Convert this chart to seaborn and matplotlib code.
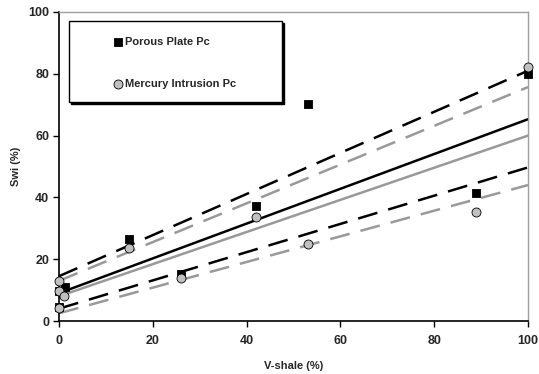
import matplotlib
matplotlib.use("Agg")
import matplotlib.pyplot as plt
import matplotlib.patches as mpatches
import matplotlib.transforms as mtransforms
import seaborn as sns
import pandas as pd

# --- data ---
pp_vsh = [0, 0, 1.3, 15, 26, 42, 53, 89, 100]
pp_swi = [9.7, 4.5, 11.0, 26.6, 15.2, 37.2, 70.1, 41.4, 80.0]

mi_vsh = [0, 0, 1.1, 0, 15, 26, 42, 53, 89, 100]
mi_swi = [13.0, 9.7, 8.2, 4.2, 23.6, 14.0, 33.5, 24.9, 35.3, 82.2]

line_x = [0, 100]
pp_fit = [9.0, 65.3]
pp_upper = [14.5, 81.0]
pp_lower = [4.0, 49.7]
mi_fit = [8.0, 60.0]
mi_upper = [13.0, 75.7]
mi_lower = [2.5, 44.0]

x_ticks = [0, 20, 40, 60, 80, 100]
y_ticks = [0, 20, 40, 60, 80, 100]

BLACK = "#000000"
GRAY = "#999999"
CIRCLE_FACE = "#c0c0c0"

sns.set_style("white")
plt.rcParams["font.family"] = ["Liberation Sans", "DejaVu Sans"]
plt.rcParams["font.weight"] = "bold"

fig = plt.figure(figsize=(5.39, 3.74), dpi=100)
ax = fig.add_axes([59 / 539, 1 - 321 / 374, (528 - 59) / 539, (321 - 12) / 374])

dash = (8, 4.5)
lines = [
    (pp_upper, BLACK, dash),
    (pp_lower, BLACK, dash),
    (mi_upper, GRAY, dash),
    (mi_lower, GRAY, dash),
    (pp_fit, BLACK, None),
    (mi_fit, GRAY, None),
]
for yv, col, ds in lines:
    df = pd.DataFrame({"x": line_x, "y": yv})
    sns.lineplot(data=df, x="x", y="y", ax=ax, color=col, linewidth=1.8,
                 legend=False, zorder=2)
    ln = ax.get_lines()[-1]
    if ds is not None:
        ln.set_dashes(ds)
    ln.set_clip_on(False)

pp_df = pd.DataFrame({"V": pp_vsh, "S": pp_swi})
mi_df = pd.DataFrame({"V": mi_vsh, "S": mi_swi})
sns.scatterplot(data=pp_df, x="V", y="S", ax=ax, marker="s", s=40, color=BLACK,
                edgecolor=BLACK, linewidth=0.6, label="Porous Plate Pc",
                zorder=3, clip_on=False)
sns.scatterplot(data=mi_df, x="V", y="S", ax=ax, marker="o", s=42,
                color=CIRCLE_FACE, edgecolor=BLACK, linewidth=0.6,
                label="Mercury Intrusion Pc", zorder=4, clip_on=False)

ax.set_xlim(0, 100)
ax.set_ylim(0, 100)
ax.set_xticks(x_ticks)
ax.set_yticks(y_ticks)
ax.tick_params(axis="both", direction="out", length=4, width=1, color="black",
               labelsize=9, bottom=True, left=True)
ax.tick_params(axis="x", pad=6)
ax.tick_params(axis="y", pad=3)
for lab in ax.get_xticklabels() + ax.get_yticklabels():
    lab.set_fontweight("bold")
ax.set_xlabel("V-shale (%)", fontsize=8, fontweight="bold", labelpad=10)
ax.set_ylabel("Swi (%)", fontsize=8, fontweight="bold", labelpad=5)

for side in ["left", "bottom"]:
    ax.spines[side].set_color("black")
    ax.spines[side].set_linewidth(1.2)
for side in ["top", "right"]:
    ax.spines[side].set_color("#a0a0a0")
    ax.spines[side].set_linewidth(1.0)

# legend frame with shadow
rx, ry, rw, rh = 0.021, 0.709, 0.454, 0.262
shadow_tr = mtransforms.offset_copy(ax.transAxes, fig=fig, x=2, y=-2, units="dots")
ax.add_patch(mpatches.Rectangle((rx, ry), rw, rh, transform=shadow_tr,
                                facecolor="black", edgecolor="black", zorder=5))
ax.add_patch(mpatches.Rectangle((rx, ry), rw, rh, transform=ax.transAxes,
                                facecolor="white", edgecolor="black",
                                linewidth=1.0, zorder=6))

leg = ax.legend(loc="upper left", bbox_to_anchor=(0.113, 0.918), frameon=False,
                borderpad=0, borderaxespad=0, handlelength=1.0,
                handletextpad=0.2, labelspacing=2.85,
                prop={"size": 8, "weight": "bold"})
leg.set_zorder(7)

fig.savefig("out.png", dpi=100)
